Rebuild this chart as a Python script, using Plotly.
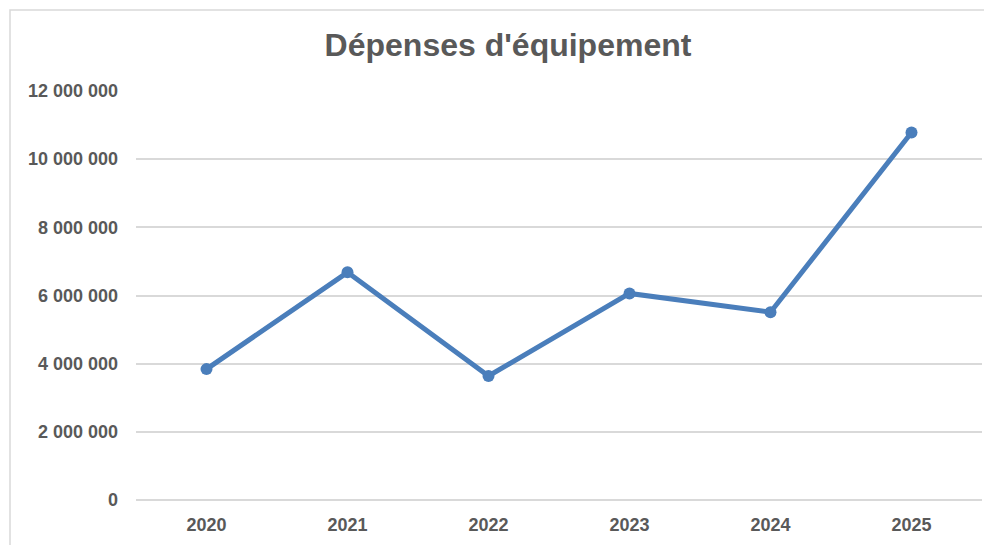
import plotly.graph_objects as go

years = ["2020", "2021", "2022", "2023", "2024", "2025"]
depenses = [3840000, 6680000, 3640000, 6060000, 5510000, 10780000]
y_ticks = [0, 2000000, 4000000, 6000000, 8000000, 10000000, 12000000]
title_text = "Dépenses d'équipement"

# the page body has an 8px default margin; compensate so screen matches
OFF = 8
W, H = 992 - OFF, 545 - OFF
ML, MR, MT, MB = 136 - OFF, 10, 91 - OFF, 45
pw, ph = W - ML - MR, H - MT - MB

def px_x(x):
    return (x - OFF - ML) / pw

def px_y(y):
    return (H - MB - (y - OFF)) / ph

fig = go.Figure()
fig.add_trace(go.Scatter(
    x=years, y=depenses, mode="lines+markers",
    line=dict(color="#4a7ebb", width=5),
    marker=dict(color="#4a7ebb", size=12),
    hoverinfo="x+y",
))

fig.update_layout(
    width=W, height=H,
    margin=dict(l=ML, r=MR, t=MT, b=MB),
    paper_bgcolor="white", plot_bgcolor="white",
    separators=", ",
    showlegend=False,
    title=dict(text="<b>" + title_text + "</b>", x=px_x(508) * pw / W + ML / W, xanchor="center",
               y=1 - (45 - OFF) / H, yanchor="middle",
               font=dict(family="Liberation Sans, Arial, sans-serif", size=32, color="#595959")),
    font=dict(family="Liberation Sans, Arial, sans-serif", color="#595959"),
    xaxis=dict(type="category", range=[-0.5, 5.5], showgrid=False, zeroline=False,
               showline=False, ticks="", ticklabelstandoff=12,
               tickfont=dict(size=18, color="#595959", weight="bold")),
    yaxis=dict(range=[0, 12000000], tickvals=y_ticks, tickformat=",d",
               showgrid=True, gridcolor="#d9d9d9", gridwidth=1.5,
               zeroline=True, zerolinecolor="#d9d9d9", zerolinewidth=1.5,
               showline=False, ticks="", ticklabelstandoff=17,
               tickfont=dict(size=18, color="#595959", weight="bold")),
    shapes=[dict(type="rect", xref="paper", yref="paper",
                 x0=px_x(10), x1=px_x(1005), y0=px_y(560), y1=px_y(10),
                 line=dict(color="#d9d9d9", width=1.5), layer="below")],
)

fig.write_html("out.html")
